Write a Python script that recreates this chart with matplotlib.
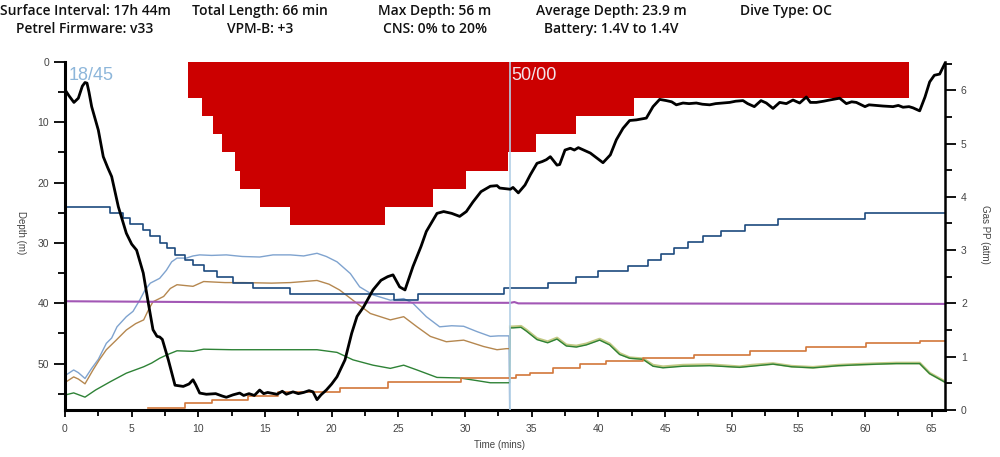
import numpy as np
import matplotlib.pyplot as plt
from matplotlib.ticker import MultipleLocator

# dive summary header
header_row1 = ["Surface Interval: 17h 44m", "Total Length: 66 min", "Max Depth: 56 m",
               "Average Depth: 23.9 m", "Dive Type: OC"]
header_row2 = ["Petrel Firmware: v33", "VPM-B: +3", "CNS: 0% to 20%", "Battery: 1.4V to 1.4V"]

# depth profile (time min, depth m)
depth_profile = [
    (0, 4.6), (0.3, 5.6), (0.67, 6.7), (1.0, 6.0), (1.3, 4.0), (1.5, 3.4), (1.65, 3.5), (1.8, 5.0),
    (2.0, 7.4), (2.5, 11.3), (2.87, 15.7), (3.2, 17.5), (3.5, 19.0), (4.0, 24.0), (4.6, 28.4),
    (5.0, 30.2), (5.37, 31.2), (5.87, 35.0), (6.25, 40.0), (6.6, 44.4), (6.9, 45.5), (7.1, 45.6),
    (7.3, 46.0), (7.75, 49.4), (8.25, 53.6), (8.87, 53.8), (9.3, 53.4), (9.6, 52.7), (9.8, 53.5),
    (10.1, 54.9), (10.6, 55.1), (11.3, 55.0), (11.8, 55.4), (12.1, 55.6), (12.6, 55.2), (13.1, 54.9),
    (13.4, 55.3), (13.8, 55.0), (14.2, 55.3), (14.6, 54.4), (14.9, 55.0), (15.2, 54.8), (15.9, 55.1),
    (16.3, 54.6), (16.6, 55.1), (17.1, 54.7), (17.5, 55.0), (17.9, 54.8), (18.3, 54.5), (18.6, 54.7),
    (18.9, 56.0), (19.2, 55.2), (19.6, 54.4), (20.0, 53.4), (20.4, 52.2), (21.0, 49.4), (21.5, 45.0),
    (21.9, 42.2), (22.4, 40.6), (23.1, 37.8), (23.7, 36.2), (24.2, 35.6), (24.6, 35.3), (25.1, 37.3),
    (25.5, 37.8), (26.1, 33.9), (26.7, 30.6), (27.1, 28.1), (27.9, 25.1), (28.4, 24.8), (29.0, 25.1),
    (29.6, 25.6), (30.1, 24.8), (30.6, 23.2), (31.2, 21.5), (31.9, 20.6), (32.4, 20.5), (32.6, 20.9),
    (33.0, 21.0), (33.4, 21.1), (33.6, 20.8), (34.0, 21.7), (34.5, 20.4), (34.9, 18.7), (35.4, 16.8),
    (35.8, 16.5), (36.1, 16.2), (36.4, 15.7), (36.9, 17.1), (37.1, 17.0), (37.5, 14.6), (37.9, 14.3),
    (38.2, 14.6), (38.5, 14.2), (39.4, 15.1), (40.0, 16.1), (40.35, 16.7), (40.9, 15.4), (41.35, 12.9),
    (41.85, 11.0), (42.35, 9.7), (42.85, 9.6), (43.6, 9.3), (44.1, 7.4), (44.6, 6.2), (45.1, 6.4),
    (45.5, 6.6), (45.85, 7.1), (46.35, 6.8), (46.8, 6.9), (47.35, 6.8), (47.8, 7.0), (48.35, 7.1),
    (48.8, 6.9), (49.35, 6.8), (49.85, 6.7), (50.3, 6.5), (50.85, 6.4), (51.2, 6.9), (51.7, 7.4),
    (52.2, 6.4), (52.6, 6.8), (53.1, 7.7), (53.6, 6.7), (54.1, 6.9), (54.6, 6.3), (55.1, 6.8),
    (55.6, 5.8), (55.9, 6.7), (56.35, 6.7), (56.9, 6.5), (57.35, 6.3), (58.1, 6.0), (58.6, 6.9),
    (59.0, 6.6), (59.35, 6.7), (60.0, 7.4), (60.3, 7.1), (60.8, 7.2), (61.35, 7.3), (62.1, 7.4),
    (62.5, 7.2), (62.85, 7.5), (63.3, 7.4), (63.6, 7.6), (64.1, 8.1), (64.5, 5.8), (64.85, 3.3),
    (65.2, 2.2), (65.6, 2.0), (66.0, 0.2),
]

# deco ceiling steps (start time, ceiling depth)
ceil_t = [9.2, 10.25, 11.1, 11.75, 12.75, 13.1, 14.6, 16.87, 24.0, 27.6, 30.1, 33.2, 35.3, 38.35, 42.7, 63.3]
ceil_d = [6, 9, 12, 15, 18, 21, 24, 27, 24, 21, 18, 15, 12, 9, 6, 6]

# gas partial pressures (atm)
light_blue = [
    (0, 0.70), (0.1, 0.66), (0.65, 0.75), (1.0, 0.70), (1.5, 0.59), (2.0, 0.78), (2.5, 0.95),
    (3.1, 1.25), (3.5, 1.35), (3.9, 1.56), (4.6, 1.75), (5.1, 1.85), (5.6, 2.06), (6.0, 2.25),
    (6.4, 2.38), (7.1, 2.47), (7.6, 2.62), (8.0, 2.78), (8.4, 2.85), (9.1, 2.85), (9.6, 2.89),
    (10.1, 2.91), (11.0, 2.90), (12.1, 2.91), (13.3, 2.88), (14.6, 2.87), (15.6, 2.91), (16.9, 2.91),
    (17.9, 2.89), (18.9, 2.94), (19.6, 2.88), (20.4, 2.78), (21.4, 2.56), (22.1, 2.31), (23.1, 2.16),
    (24.4, 2.06), (25.4, 2.09), (26.1, 2.0), (27.1, 1.75), (28.1, 1.56), (29.0, 1.58), (29.9, 1.57),
    (30.9, 1.47), (31.9, 1.38), (32.5, 1.39), (33.3, 1.39), (33.35, 0.0),
]
tan_bottom = [
    (0, 0.55), (0.1, 0.53), (0.65, 0.62), (1.0, 0.58), (1.5, 0.49), (2.1, 0.75), (2.6, 0.95),
    (3.1, 1.13), (3.8, 1.30), (4.6, 1.50), (5.3, 1.62), (5.9, 1.69), (6.3, 1.90), (6.6, 2.03),
    (7.4, 2.13), (7.9, 2.28), (8.4, 2.35), (9.6, 2.32), (10.4, 2.41), (12.0, 2.39), (13.4, 2.39),
    (15.5, 2.38), (16.9, 2.39), (18.9, 2.43), (19.8, 2.36), (20.6, 2.25), (21.9, 2.00), (22.9, 1.81),
    (24.4, 1.69), (25.4, 1.75), (26.4, 1.56), (27.4, 1.38), (28.6, 1.28), (29.9, 1.31), (31.4, 1.19),
    (32.4, 1.13), (33.1, 1.15), (33.35, 1.15), (33.4, 1.56),
]
olive_deco = [
    (33.4, 1.56), (33.6, 1.56), (34.2, 1.57), (34.6, 1.50), (35.4, 1.34), (36.2, 1.28), (36.9, 1.35),
    (37.6, 1.22), (38.35, 1.20), (39.1, 1.24), (40.1, 1.33), (40.85, 1.24), (41.6, 1.06),
    (42.35, 0.98), (43.35, 0.96), (44.1, 0.84), (44.85, 0.81), (46.35, 0.84), (48.35, 0.85),
    (50.6, 0.81), (51.5, 0.84), (53.1, 0.87), (54.5, 0.82), (56.1, 0.80), (58.0, 0.84),
    (59.85, 0.86), (61.0, 0.87), (62.35, 0.88), (64.1, 0.88), (64.85, 0.69), (65.5, 0.60), (66.0, 0.53),
]
green = [
    (0, 0.28), (0.65, 0.32), (1.5, 0.24), (2.3, 0.375), (3.4, 0.53), (4.6, 0.69), (5.9, 0.81),
    (6.5, 0.88), (7.1, 0.97), (7.7, 1.04), (8.4, 1.11), (9.6, 1.10), (10.4, 1.14), (12.5, 1.13),
    (14.6, 1.13), (16.9, 1.13), (18.9, 1.13), (20.4, 1.08), (21.6, 0.94), (23.1, 0.84), (24.4, 0.78),
    (25.4, 0.84), (26.4, 0.75), (27.9, 0.61), (29.6, 0.60), (30.9, 0.55), (31.9, 0.51), (33.35, 0.51),
    (33.4, 1.54), (33.6, 1.54), (34.2, 1.55), (34.6, 1.48), (35.4, 1.32), (36.2, 1.26), (36.9, 1.33),
    (37.6, 1.20), (38.35, 1.18), (39.1, 1.22), (40.1, 1.31), (40.85, 1.22), (41.6, 1.04),
    (42.35, 0.97), (43.35, 0.95), (44.1, 0.82), (44.85, 0.79), (46.35, 0.82), (48.35, 0.83),
    (50.6, 0.80), (51.5, 0.82), (53.1, 0.86), (54.5, 0.81), (56.1, 0.79), (58.0, 0.83),
    (59.85, 0.85), (61.0, 0.86), (62.35, 0.87), (64.1, 0.87), (64.85, 0.68), (65.5, 0.59), (66.0, 0.52),
]

# stepped series
navy_t = [0, 3.37, 4.37, 4.87, 5.87, 6.37, 7.12, 7.62, 8.25, 9.0, 9.6, 10.4, 11.4, 12.6, 14.1, 16.9,
          24.7, 26.5, 32.9, 36.2, 38.3, 40.0, 42.2, 43.7, 44.7, 45.7, 46.7, 47.85, 49.2, 51.0, 53.5, 60.0, 66]
navy_v = [3.81, 3.70, 3.60, 3.49, 3.38, 3.26, 3.14, 3.03, 2.91, 2.81, 2.72, 2.61, 2.50, 2.39, 2.28, 2.17,
          2.06, 2.17, 2.28, 2.39, 2.50, 2.61, 2.71, 2.81, 2.92, 3.03, 3.15, 3.26, 3.35, 3.48, 3.58, 3.69, 3.69]
orange_t = [6.25, 9.0, 11.0, 13.75, 16.0, 20.6, 24.2, 29.7, 33.85, 34.85, 36.6, 38.6, 40.6, 43.35,
            47.2, 51.35, 55.6, 60.1, 64.1, 66]
orange_v = [0.03, 0.13, 0.19, 0.26, 0.34, 0.41, 0.53, 0.59, 0.66, 0.70, 0.78, 0.86, 0.91, 0.98,
            1.04, 1.11, 1.19, 1.25, 1.30, 1.30]
purple_t = [0, 13.0, 33.4, 33.7, 34.0, 34.3, 66]
purple_v = [2.04, 2.02, 2.01, 2.025, 2.0, 2.0, 1.99]

gas_switch_t = 33.35

fig = plt.figure(figsize=(10, 4.57), dpi=100)
ax = fig.add_axes([0.065, 0.103, 0.88, 0.7613])
ax2 = ax.twinx()
ax.set_zorder(ax2.get_zorder() + 1)
ax.patch.set_visible(False)

# gas lines on right axis
def xy(pairs):
    a = np.array(pairs)
    return a[:, 0], a[:, 1]

ax2.plot(*xy(light_blue), color='#7fa3cf', lw=1.0)
ax2.plot(*xy(tan_bottom), color='#b5874f', lw=1.0)
ax2.plot(*xy(olive_deco), color='#c2c984', lw=2.0)
ax2.plot(*xy(green), color='#2e8236', lw=1.0)
ax2.plot(orange_t, orange_v, color='#d2773a', lw=1.2, drawstyle='steps-post')
ax2.plot(navy_t, navy_v, color='#1d4a7e', lw=1.2, drawstyle='steps-post')
ax2.plot(purple_t, purple_v, color='#a257b5', lw=1.5)

# deco ceiling and depth on left axis
ax.fill_between(ceil_t, 0, ceil_d, step='post', color='#cc0000', lw=0)
ax.axvline(gas_switch_t, color='#b3d0e6', lw=1.2, zorder=3)
dt, dd = xy(depth_profile)
ax.plot(dt, dd, color='black', lw=2.0, zorder=4)

ax.text(0.3, 0.9, '18/45', color='#8db6da', fontsize=13, va='top', ha='left',
        family='Liberation Sans', zorder=5)
ax.text(gas_switch_t + 0.15, 0.9, '50/00', color='#f3e3ea', fontsize=13, va='top', ha='left',
        family='Liberation Sans', zorder=5)

ax.set_xlim(0, 66)
ax.set_ylim(57.7, 0)
ax2.set_ylim(0, 6.53)

ax.xaxis.set_major_locator(MultipleLocator(5))
ax.xaxis.set_minor_locator(MultipleLocator(2.5))
ax.yaxis.set_major_locator(MultipleLocator(10))
ax.yaxis.set_minor_locator(MultipleLocator(5))
ax2.yaxis.set_major_locator(MultipleLocator(1))
ax2.yaxis.set_minor_locator(MultipleLocator(0.5))

for a in (ax, ax2):
    a.spines['top'].set_visible(False)
    a.tick_params(which='major', length=8, width=1.3, color='black', labelsize=7.5,
                  labelcolor='#444444', labelfontfamily='Liberation Sans')
    a.tick_params(which='minor', length=5, width=1.3, color='black')
ax.tick_params(axis='x', which='major', length=5, pad=5)
ax.tick_params(axis='x', which='minor', length=4)
ax.spines['left'].set_linewidth(2.2)
ax.spines['bottom'].set_linewidth(2.2)
ax.spines['right'].set_visible(False)
ax2.spines['left'].set_visible(False)
ax2.spines['bottom'].set_visible(False)
ax2.spines['right'].set_linewidth(1.8)

fig.text(0.021, 0.492, 'Depth (m)', rotation=270, fontsize=7, color='#444444',
         family='Liberation Sans', ha='center', va='center')
fig.text(0.985, 0.486, 'Gas PP (atm)', rotation=270, fontsize=7, color='#444444',
         family='Liberation Sans', ha='center', va='center')
fig.text(0.5, 0.026, 'Time (mins)', fontsize=7, color='#444444',
         family='Liberation Sans', ha='center', va='center')

col_x = [0.085, 0.260, 0.435, 0.611, 0.786]
for x, s in zip(col_x, header_row1):
    fig.text(x, 0.976, s, ha='center', va='center', fontsize=10, fontweight='semibold',
             family='Open Sans', color='#111111')
for x, s in zip(col_x, header_row2):
    fig.text(x, 0.937, s, ha='center', va='center', fontsize=10, fontweight='semibold',
             family='Open Sans', color='#111111')

fig.savefig('out.png', dpi=100)
